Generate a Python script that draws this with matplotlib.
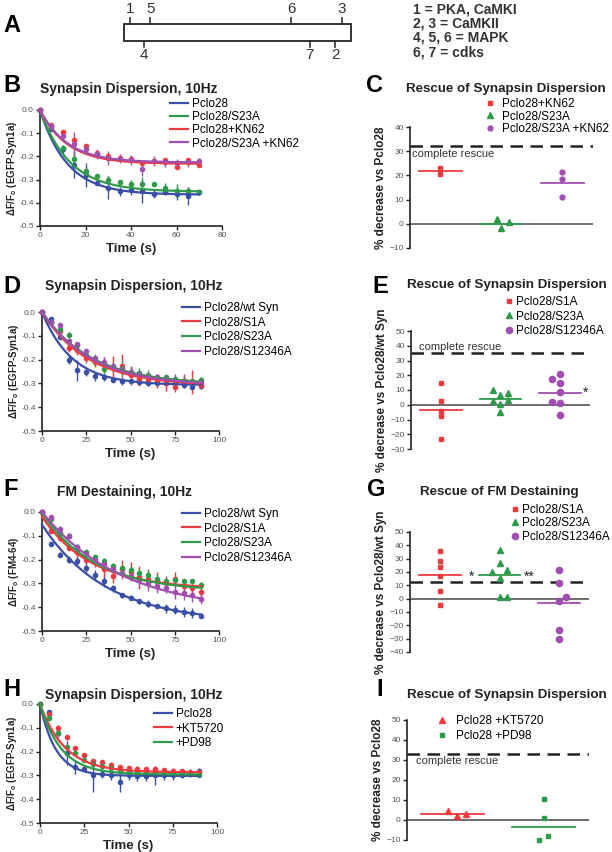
import numpy as np
import matplotlib
matplotlib.use('Agg')
import matplotlib.pyplot as plt
from matplotlib.lines import Line2D
from matplotlib.patches import Rectangle

plt.rcParams['font.family'] = ['Liberation Sans', 'DejaVu Sans']
plt.rcParams['mathtext.fontset'] = 'custom'
plt.rcParams['mathtext.rm'] = 'Liberation Sans'
plt.rcParams['mathtext.bf'] = 'Liberation Sans:bold'

W, H = 612, 852
BLUE = '#3a4fa6'
GREEN = '#2f9a4a'
RED = '#ee3a3f'
PURPLE = '#a04fb0'
DARK = '#222222'

# ---------------- data ----------------
# A: phosphorylation sites (position along bar, 0-100)
sites_top = ['1', '5', '6', '3']
sites_top_pos = [2.6, 11.5, 73.6, 96]
sites_bot = ['4', '7', '2']
sites_bot_pos = [8.8, 81.9, 93]
kinase_key = ['1 = PKA, CaMKI', '2, 3 = CaMKII', '4, 5, 6 = MAPK', '6, 7 = cdks']

# B
t_b = list(range(0, 75, 5))
b_labels = ['Pclo28', 'Pclo28/S23A', 'Pclo28+KN62', 'Pclo28/S23A +KN62']
b_blue = [0, -0.08, -0.17, -0.235, -0.28, -0.315, -0.335, -0.35, -0.345, -0.35, -0.36, -0.355, -0.36, -0.37, -0.355]
b_blue_err = [0, 0.005, 0.02, 0.06, 0.05, 0.01, 0.05, 0.02, 0.02, 0.05, 0.02, 0.01, 0.03, 0.04, 0.01]
b_green = [0, -0.075, -0.165, -0.21, -0.265, -0.285, -0.30, -0.31, -0.32, -0.32, -0.317, -0.335, -0.35, -0.35, -0.355]
b_green_err = [0, 0.005, 0.01, 0.02, 0.02, 0.01, 0.015, 0.01, 0.02, 0.03, 0.005, 0.02, 0.03, 0.02, 0.01]
b_red = [0, -0.065, -0.095, -0.13, -0.157, -0.185, -0.20, -0.205, -0.21, -0.23, -0.22, -0.215, -0.245, -0.215, -0.237]
b_red_err = [0, 0.01, 0.01, 0.01, 0.01, 0.01, 0.01, 0.01, 0.01, 0.01, 0.01, 0.01, 0.01, 0.01, 0.01]
b_purple = [0, -0.07, -0.11, -0.145, -0.17, -0.19, -0.205, -0.21, -0.215, -0.255, -0.22, -0.225, -0.23, -0.225, -0.22]
b_purple_err = [0, 0.01, 0.01, 0.05, 0.02, 0.02, 0.03, 0.02, 0.02, 0.03, 0.02, 0.02, 0.02, 0.02, 0.015]
# fit params: start, plateau, tau
b_fits = [(0, -0.365, 12), (0, -0.352, 13), (0, -0.232, 12), (0, -0.226, 12)]

# D
t_d = list(range(0, 95, 5))
d_labels = ['Pclo28/wt Syn', 'Pclo28/S1A', 'Pclo28/S23A', 'Pclo28/S12346A']
d_blue = [0, -0.03, -0.105, -0.2, -0.245, -0.25, -0.27, -0.275, -0.285, -0.29, -0.29, -0.295, -0.3, -0.3, -0.3, -0.3, -0.305, -0.315, -0.31]
d_blue_err = [0, 0.005, 0.01, 0.02, 0.045, 0.02, 0.02, 0.015, 0.01, 0.015, 0.01, 0.01, 0.01, 0.01, 0.01, 0.01, 0.015, 0.01, 0.01]
d_red = [0, -0.04, -0.08, -0.15, -0.16, -0.195, -0.21, -0.22, -0.235, -0.225, -0.265, -0.28, -0.285, -0.29, -0.3, -0.315, -0.29, -0.295, -0.305]
d_red_err = [0, 0.01, 0.01, 0.02, 0.02, 0.02, 0.02, 0.03, 0.05, 0.05, 0.04, 0.03, 0.02, 0.03, 0.03, 0.02, 0.03, 0.05, 0.02]
d_green = [0, -0.04, -0.07, -0.095, -0.14, -0.18, -0.205, -0.24, -0.23, -0.235, -0.25, -0.255, -0.265, -0.275, -0.275, -0.28, -0.29, -0.29, -0.285]
d_green_err = [0, 0.005, 0.01, 0.01, 0.01, 0.01, 0.02, 0.02, 0.02, 0.03, 0.02, 0.02, 0.02, 0.01, 0.01, 0.02, 0.02, 0.01, 0.01]
d_purple = [0, -0.04, -0.055, -0.12, -0.135, -0.165, -0.195, -0.21, -0.225, -0.24, -0.25, -0.26, -0.27, -0.275, -0.28, -0.285, -0.29, -0.295, -0.295]
d_purple_err = [0, 0.005, 0.005, 0.01, 0.01, 0.01, 0.02, 0.02, 0.01, 0.02, 0.02, 0.01, 0.01, 0.01, 0.01, 0.02, 0.02, 0.01, 0.01]
d_fits = [(0, -0.307, 17), (0, -0.31, 26), (0, -0.305, 28), (0, -0.31, 28)]

# F
f_blue = [0, -0.135, -0.18, -0.2, -0.205, -0.235, -0.265, -0.29, -0.32, -0.35, -0.36, -0.375, -0.385, -0.395, -0.405, -0.41, -0.42, -0.425, -0.435]
f_blue_err = [0, 0.005, 0.01, 0.015, 0.02, 0.02, 0.02, 0.025, 0.015, 0.01, 0.01, 0.01, 0.015, 0.01, 0.02, 0.02, 0.02, 0.02, 0.01]
f_red = [0, -0.08, -0.11, -0.15, -0.17, -0.2, -0.21, -0.24, -0.27, -0.24, -0.25, -0.275, -0.28, -0.29, -0.3, -0.28, -0.31, -0.32, -0.335]
f_red_err = [0, 0.01, 0.01, 0.01, 0.02, 0.02, 0.02, 0.03, 0.03, 0.04, 0.04, 0.05, 0.04, 0.04, 0.03, 0.03, 0.02, 0.03, 0.02]
f_green = [0, -0.03, -0.09, -0.1, -0.145, -0.17, -0.19, -0.205, -0.225, -0.235, -0.245, -0.255, -0.265, -0.28, -0.29, -0.285, -0.29, -0.29, -0.305]
f_green_err = [0, 0.005, 0.01, 0.01, 0.01, 0.01, 0.01, 0.01, 0.01, 0.01, 0.02, 0.02, 0.02, 0.02, 0.01, 0.01, 0.01, 0.01, 0.01]
f_purple = [0, -0.02, -0.07, -0.1, -0.145, -0.175, -0.2, -0.22, -0.24, -0.255, -0.27, -0.285, -0.3, -0.31, -0.32, -0.335, -0.34, -0.35, -0.365]
f_purple_err = [0, 0.005, 0.01, 0.01, 0.01, 0.01, 0.01, 0.01, 0.01, 0.02, 0.02, 0.02, 0.03, 0.03, 0.02, 0.03, 0.03, 0.03, 0.02]
f_fits = [(-0.053, -0.465, 36), (-0.02, -0.325, 28), (-0.005, -0.335, 30), (0, -0.42, 45)]

# H
h_labels = ['Pclo28', '+KT5720', '+PD98']
h_blue = [0, -0.034, -0.12, -0.206, -0.265, -0.273, -0.3, -0.293, -0.298, -0.328, -0.298, -0.304, -0.303, -0.3, -0.3, -0.298, -0.298, -0.293, -0.28]
h_blue_err = [0, 0.005, 0.02, 0.05, 0.03, 0.01, 0.07, 0.02, 0.02, 0.04, 0.02, 0.02, 0.02, 0.04, 0.02, 0.02, 0.015, 0.01, 0.01]
h_red = [0, -0.04, -0.1, -0.14, -0.185, -0.215, -0.24, -0.245, -0.255, -0.265, -0.27, -0.272, -0.275, -0.275, -0.278, -0.28, -0.283, -0.285, -0.285]
h_red_err = [0, 0.005, 0.01, 0.01, 0.01, 0.01, 0.01, 0.01, 0.01, 0.01, 0.01, 0.01, 0.01, 0.01, 0.01, 0.01, 0.01, 0.01, 0.01]
h_green = [0, -0.06, -0.12, -0.18, -0.205, -0.235, -0.25, -0.26, -0.27, -0.28, -0.285, -0.29, -0.29, -0.29, -0.292, -0.295, -0.295, -0.295, -0.297]
h_green_err = [0, 0.005, 0.01, 0.01, 0.01, 0.01, 0.01, 0.01, 0.01, 0.01, 0.01, 0.01, 0.01, 0.01, 0.01, 0.01, 0.01, 0.01, 0.01]
h_fits = [(0, -0.302, 9), (0, -0.287, 14), (0, -0.296, 12)]

# C
c_labels = ['Pclo28+KN62', 'Pclo28/S23A', 'Pclo28/S23A +KN62']
c_vals = [[23, 20.5], [1.9, 0.7, -1.8], [21.5, 18.5, 11]]
c_jit = [[0, 0], [-0.07, 0.12, 0], [0, 0, 0]]
c_means = [22, 0, 17]
c_rescue = 32

# E
e_labels = ['Pclo28/S1A', 'Pclo28/S23A', 'Pclo28/S12346A']
e_vals = [[14.5, 2.5, -4, -7.5, -23],
          [9.9, 6.6, 7.7, 2.5, 0.2, 3.2, -5.2],
          [17.3, 20.7, 14.5, 8.9, 2.0, 1.4, -6.8]]
e_jit = [[0, 0, 0, 0, 0],
         [-0.13, 0, 0.13, -0.13, 0, 0.13, 0],
         [-0.13, 0, 0, 0, -0.13, 0, 0]]
e_means = [-3.6, 3.9, 8.2]
e_rescue = 35

# G
g_vals = [[36, 28.5, 23.5, 17, 5.5, -4.5],
          [36.5, 27, 20.3, 21.3, 15.8, 1.5, 1.5],
          [21.5, 11.5, -1.8, 1.5, -23.5, -30]]
g_jit = [[0, 0, 0, 0, 0, 0],
         [0, 0, -0.12, 0.12, 0, 0, 0.12],
         [0, 0, 0, 0.12, 0, 0]]
g_means = [17.5, 17.8, -3.5]
g_rescue = 12.8

# I
i_labels = ['Pclo28 +KT5720', 'Pclo28 +PD98']
i_vals = [[4.7, 2.2, 2.8], [10.5, 0.8, -7.8, -9.8]]
i_jit = [[-0.05, 0.05, 0.15], [0, 0, 0.05, -0.05]]
i_means = [3.0, -3.5]
i_rescue = 33

fig = plt.figure(figsize=(W / 100, H / 100), dpi=100)


def px_axes(l, t, r, b):
    return fig.add_axes([l / W, 1 - b / H, (r - l) / W, (b - t) / H])


def ftext(x, y, s, **kw):
    fig.text(x / W, 1 - y / H, s, **kw)


def add_legend(ax, handles, labels, x, y, spacing=0.15, hl=1.5, tp=0.35):
    ax.legend(handles, labels, loc='upper left', bbox_to_anchor=(x / W, 1 - y / H),
              bbox_transform=fig.transFigure, frameon=False, fontsize=8.5,
              borderpad=0, borderaxespad=0, handlelength=hl, handletextpad=tp,
              labelspacing=spacing)


def style_axes(ax):
    for s in ['top', 'right']:
        ax.spines[s].set_visible(False)
    for s in ['left', 'bottom']:
        ax.spines[s].set_linewidth(1.2)
        ax.spines[s].set_color(DARK)
    ax.tick_params(length=3, width=1, labelsize=6, labelcolor='#555555', color=DARK, pad=1.5)


def line_panel(ax, t, series, errs, fits, colors, xmax, xticks, ylabel):
    style_axes(ax)
    handles = []
    tt = np.linspace(0, t[-1], 200)
    for y, e, (y0, p, tau), c in zip(series, errs, fits, colors):
        ax.errorbar(t, y, yerr=e, fmt='o', ms=3, color=c, ecolor=c, elinewidth=1,
                    capsize=0, clip_on=False, zorder=3)
        h, = ax.plot(tt, y0 + (p - y0) * (1 - np.exp(-tt / tau)), color=c, lw=1.6,
                     clip_on=False, zorder=4)
        handles.append(h)
    ax.set_xlim(0, xmax)
    ax.set_ylim(-0.5, 0)
    ax.set_xticks(xticks)
    yt = [0, -0.1, -0.2, -0.3, -0.4, -0.5]
    ax.set_yticks(yt)
    ax.set_yticklabels(['%.1f' % v for v in yt])
    ax.set_xlabel('Time (s)', fontsize=9.5, fontweight='bold', color=DARK, labelpad=3)
    ax.set_ylabel(ylabel, fontsize=7, fontweight='bold', color=DARK, labelpad=0)
    return handles


def dot_panel(ax, vals, jit, means, colors, markers, ylim, yticks, rescue, ylabel, msize):
    style_axes(ax)
    ax.spines['bottom'].set_visible(False)
    ax.set_xticks([])
    ax.set_xlim(0, len(vals))
    ax.set_ylim(*ylim)
    ax.set_yticks(yticks)
    ax.axhline(0, color='#555555', lw=1.2, zorder=1)
    ax.axhline(rescue, color=DARK, lw=1.8, ls=(0, (5, 3)), zorder=1)
    handles = []
    for i, (v, j, m, c, mk, ms) in enumerate(zip(vals, jit, means, colors, markers, msize)):
        x = i + 0.5 + np.array(j)
        ax.plot(x, v, ls='none', marker=mk, ms=ms, color=c, clip_on=False, zorder=3)
        ax.plot([i + 0.15, i + 0.85], [m, m], color=c, lw=1.3, zorder=2)
        handles.append(Line2D([], [], ls='none', marker=mk, ms=ms, color=c))
    ax.set_ylabel(ylabel, fontsize=8.5, fontweight='bold', color=DARK, labelpad=2)
    return handles


# ---------------- A ----------------
axa = px_axes(124, 24, 351, 41)
axa.set_xlim(0, 100)
axa.set_ylim(0, 1)
axa.axis('off')
axa.add_patch(Rectangle((0, 0), 100, 1, fill=False, ec='#333333', lw=1.4, clip_on=False))
for s, p in zip(sites_top, sites_top_pos):
    axa.plot([p, p], [1, 1.35], color='#333333', lw=1.2, clip_on=False)
    axa.text(p, 1.9, s, ha='center', va='center', fontsize=11, color='#333333')
for s, p in zip(sites_bot, sites_bot_pos):
    axa.plot([p, p], [0, -0.35], color='#333333', lw=1.2, clip_on=False)
    axa.text(p, -0.85, s, ha='center', va='center', fontsize=11, color='#333333')
for k, s in enumerate(kinase_key):
    ftext(413, 9 + 14.5 * k, s, fontsize=10, fontweight='bold', color='#333333', va='center')

# ---------------- B ----------------
axb = px_axes(40, 110, 222, 226)
hb = line_panel(axb, t_b, [b_blue, b_green, b_red, b_purple],
                [b_blue_err, b_green_err, b_red_err, b_purple_err], b_fits,
                [BLUE, GREEN, RED, PURPLE], 80, [0, 20, 40, 60, 80],
                r'ΔF/F$_\mathbf{o}$ (EGFP-Syn1a)')
add_legend(axb, hb, b_labels, 170, 98, spacing=0.1)

# ---------------- D ----------------
axd = px_axes(42, 312, 219, 431)
hd = line_panel(axd, t_d, [d_blue, d_red, d_green, d_purple],
                [d_blue_err, d_red_err, d_green_err, d_purple_err], d_fits,
                [BLUE, RED, GREEN, PURPLE], 100, [0, 25, 50, 75, 100],
                r'ΔF/F$_\mathbf{o}$ (EGFP-Syn1a)')
add_legend(axd, hd, d_labels, 182, 302, spacing=0.22)

# ---------------- F ----------------
axf = px_axes(42, 512, 219, 631)
hf = line_panel(axf, t_d, [f_blue, f_red, f_green, f_purple],
                [f_blue_err, f_red_err, f_green_err, f_purple_err], f_fits,
                [BLUE, RED, GREEN, PURPLE], 100, [0, 25, 50, 75, 100],
                r'ΔF/F$_\mathbf{o}$ (FM4-64)')
add_legend(axf, hf, d_labels, 182, 508, spacing=0.22)

# ---------------- H ----------------
axh = px_axes(40, 704, 217, 823)
hh = line_panel(axh, t_d, [h_blue, h_red, h_green],
                [h_blue_err, h_red_err, h_green_err], h_fits,
                [BLUE, RED, GREEN], 100, [0, 25, 50, 75, 100],
                r'ΔF/F$_\mathbf{o}$ (EGFP-Syn1a)')
add_legend(axh, hh, h_labels, 154, 708, spacing=0.22)

# ---------------- C ----------------
axc = px_axes(410, 127, 593, 248)
hc = dot_panel(axc, c_vals, c_jit, c_means, [RED, GREEN, PURPLE], ['s', '^', 'o'],
               (-10, 40), [-10, 0, 10, 20, 30, 40], c_rescue, '% decrease vs Pclo28', [3.5, 4, 3.5])
axc.text(0.03, 29, 'complete rescue', fontsize=8, color='#333333', va='center')
add_legend(axc, hc, c_labels, 485, 98, spacing=0.05, hl=0.8, tp=0.6)

# ---------------- E ----------------
axe = px_axes(411, 331, 590, 449)
he = dot_panel(axe, e_vals, e_jit, e_means, [RED, GREEN, PURPLE], ['s', '^', 'o'],
               (-30, 50), [-30, -20, -10, 0, 10, 20, 30, 40, 50], e_rescue,
               '% decrease vs Pclo28/wt Syn', [3.5, 4, 4.5])
axe.text(0.13, 39, 'complete rescue', fontsize=8, color='#333333', va='center')
axe.text(2.93, 8, '*', fontsize=10, color=DARK, ha='center', va='center')
add_legend(axe, he, e_labels, 505, 296, spacing=0.22, hl=0.6, tp=0.3)

# ---------------- G ----------------
axg = px_axes(410, 532, 589, 652)
hg = dot_panel(axg, g_vals, g_jit, g_means, [RED, GREEN, PURPLE], ['s', '^', 'o'],
               (-40, 50), [-40, -30, -20, -10, 0, 10, 20, 30, 40, 50], g_rescue,
               '% decrease vs Pclo28/wt Syn', [3.5, 4, 4.5])
axg.text(1.03, 16.5, '*', fontsize=10, color=DARK, ha='center', va='center')
axg.text(2.0, 16.5, '**', fontsize=10, color=DARK, ha='center', va='center')
add_legend(axg, hg, e_labels, 511, 504, spacing=0.12, hl=0.6, tp=0.3)

# ---------------- I ----------------
axi = px_axes(407, 720, 589, 840)
hi = dot_panel(axi, i_vals, i_jit, i_means, [RED, GREEN], ['^', 's'],
               (-10, 50), [-10, 0, 10, 20, 30, 40, 50], i_rescue,
               '% decrease vs Pclo28', [4, 3.5])
axi.text(0.1, 29.5, 'complete rescue', fontsize=8, color='#333333', va='center')
add_legend(axi, hi, i_labels, 437, 715, spacing=0.25, hl=0.8, tp=0.8)

# ---------------- titles and letters ----------------
lt_kw = dict(fontsize=10, fontweight='bold', color=DARK, va='center')
rt_kw = dict(fontsize=9.6, fontweight='bold', color=DARK, va='center')
ftext(40, 89, 'Synapsin Dispersion, 10Hz', **lt_kw)
ftext(406, 89, 'Rescue of Synapsin Dispersion', **rt_kw)
ftext(45, 286, 'Synapsin Dispersion, 10Hz', **lt_kw)
ftext(407, 285, 'Rescue of Synapsin Dispersion', **rt_kw)
ftext(57, 492, 'FM Destaining, 10Hz', **lt_kw)
ftext(420, 492, 'Rescue of FM Destaining', **rt_kw)
ftext(45, 695, 'Synapsin Dispersion, 10Hz', **lt_kw)
ftext(407, 695, 'Rescue of Synapsin Dispersion', **rt_kw)

letter_kw = dict(fontsize=17, fontweight='bold', color='black', va='center')
ftext(3, 25, 'A', **letter_kw)
ftext(3, 86, 'B', **letter_kw)
ftext(366, 86, 'C', **letter_kw)
ftext(3, 286, 'D', **letter_kw)
ftext(372, 286, 'E', **letter_kw)
ftext(3, 489, 'F', **letter_kw)
ftext(367, 490, 'G', **letter_kw)
ftext(3, 690, 'H', **letter_kw)
ftext(376, 689, 'I', **letter_kw)

fig.savefig('out.png', dpi=100)
